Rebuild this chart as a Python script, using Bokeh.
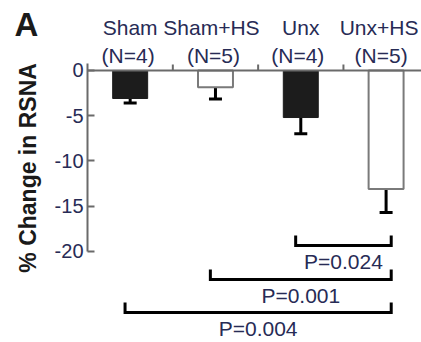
import math
from bokeh.plotting import figure
from bokeh.models import (Range1d, LinearAxis, FixedTicker, ColumnDataSource,
                          Whisker, TeeHead)
from bokeh.core.properties import value
from bokeh.embed import file_html
from bokeh.resources import INLINE

# ---- data ----
groups = ["Sham", "Sham+HS", "Unx", "Unx+HS"]
n_labels = ["(N=4)", "(N=5)", "(N=4)", "(N=5)"]
means = [-3.1, -1.85, -5.2, -13.1]
sems = [0.5, 1.3, 1.8, 2.6]
filled = [True, False, True, False]
y_ticks = [0, -5, -10, -15, -20]
y_tick_labels = ["0", "-5", "-10", "-15", "-20"]
comparisons = [(2, 3), (1, 3), (0, 3)]
p_labels = ["P=0.024", "P=0.001", "P=0.004"]
y_title = "% Change in RSNA"
panel_letter = "A"

# ---- style / layout ----
FONT = "Liberation Sans"
TXT = "#272b55"
DARK = "#1a1a1a"
AX = "#6a6a6a"
X_MIN, X_MAX = -1.02, 3.915
Y_MIN, Y_MAX = -30.06, 7.73
bracket_levels = [-19.34, -23.1, -26.74]
bracket_h = 1.1
bracket_pad = 0.06
group_dx = [0, -4, 0, -7]
n_dx = [-2, -2, -3, -5]
group_y, n_y = 4.70, 1.60
title_x, title_y = -0.692, -10.77
letter_x, letter_y = -0.856, 5.08
sep_tick = 0.66

xc = [i + 0.5 for i in range(len(groups))]
seps = [i for i in range(1, len(groups))]

p = figure(width=421, height=342, output_backend="svg", toolbar_location=None,
           x_range=Range1d(X_MIN, X_MAX), y_range=Range1d(Y_MIN, Y_MAX),
           x_axis_type=None, y_axis_type=None, min_border_left=0,
           min_border_right=0, min_border_top=0, min_border_bottom=0)
p.outline_line_color = None
p.background_fill_color = "white"
p.border_fill_color = "white"

# left axis placed at x = 0
ya = LinearAxis(fixed_location=0, ticker=FixedTicker(ticks=y_ticks),
                bounds=(-20, 0.8))
ya.major_label_overrides = {t: s for t, s in zip(y_ticks, y_tick_labels)}
ya.axis_line_color = AX
ya.axis_line_width = 2
ya.major_tick_line_color = AX
ya.major_tick_line_width = 2
ya.major_tick_in = 7
ya.major_tick_out = 0
ya.minor_tick_line_color = None
ya.major_label_standoff = 4
ya.major_label_text_font = FONT
ya.major_label_text_font_size = "20px"
ya.major_label_text_color = TXT
p.add_layout(ya, "left")

# top axis line at zero
xa = LinearAxis(fixed_location=0, ticker=FixedTicker(ticks=[]),
                bounds=(0, X_MAX))
xa.axis_line_color = AX
xa.axis_line_width = 2
xa.major_tick_line_color = None
xa.minor_tick_line_color = None
p.add_layout(xa, "above")

# separator ticks between groups
p.segment(x0=seps, x1=seps, y0=0, y1=sep_tick, line_color=AX, line_width=2)

# bars
fx = [x for x, f in zip(xc, filled) if f]
fm = [m for m, f in zip(means, filled) if f]
fs = [s for s, f in zip(sems, filled) if f]
ox = [x for x, f in zip(xc, filled) if not f]
om = [m for m, f in zip(means, filled) if not f]
os_ = [s for s, f in zip(sems, filled) if not f]

p.vbar(x=ox, top=0, bottom=om, width=0.41, fill_color="white",
       line_color="#7a7a7a", line_width=2)
p.vbar(x=fx, top=0, bottom=fm, width=0.41, fill_color="#1c1c1c",
       line_color="#1c1c1c", line_width=1)

# error bars
src_f = ColumnDataSource(dict(x=fx, lo=[m - s for m, s in zip(fm, fs)], hi=fm))
src_o = ColumnDataSource(dict(x=ox, lo=[m - s for m, s in zip(om, os_)],
                              hi=[m + s for m, s in zip(om, os_)]))
p.add_layout(Whisker(source=src_f, base="x", lower="lo", upper="hi",
                     line_color="black", line_width=3,
                     lower_head=TeeHead(size=13, line_width=3, line_color="black"),
                     upper_head=None))
p.add_layout(Whisker(source=src_o, base="x", lower="lo", upper="hi",
                     line_color="black", line_width=3,
                     lower_head=TeeHead(size=13, line_width=3, line_color="black"),
                     upper_head=TeeHead(size=13, line_width=3, line_color="black")))

# significance brackets
bxs, bys, tx, ty = [], [], [], []
for (a, b), lvl in zip(comparisons, bracket_levels):
    x0 = xc[a] - bracket_pad
    x1 = xc[b] + bracket_pad
    bxs.append([x0, x0, x1, x1])
    bys.append([lvl + bracket_h, lvl, lvl, lvl + bracket_h])
    tx.append((x0 + x1) / 2)
    ty.append(lvl - 1.8)
p.multi_line(xs=bxs, ys=bys, line_color="black", line_width=3,
             line_join="miter")
p.text(x=tx, y=ty, text=p_labels, text_align="center", text_baseline="middle",
       text_font=value(FONT), text_font_size="21px", text_color=TXT)

# group labels
p.text(x=xc, y=group_y, text=groups, x_offset=group_dx, text_align="center",
       text_baseline="middle", text_font=value(FONT),
       text_font_size="21px", text_color=TXT)
p.text(x=xc, y=n_y, text=n_labels, x_offset=n_dx, text_align="center",
       text_baseline="middle", text_font=value(FONT),
       text_font_size="21px", text_color=TXT)

# y-axis title
p.text(x=[title_x], y=[title_y], text=[y_title], angle=math.pi / 2,
       text_align="center", text_baseline="middle", text_font=value(FONT),
       text_font_size="23px", text_font_style="bold", text_color=DARK)

# panel letter
p.text(x=[letter_x], y=[letter_y], text=[panel_letter], text_align="left",
       text_baseline="middle", text_font=value(FONT),
       text_font_size="33px", text_font_style="bold", text_color=DARK)

open("out.html", "w").write(file_html(p, INLINE))
